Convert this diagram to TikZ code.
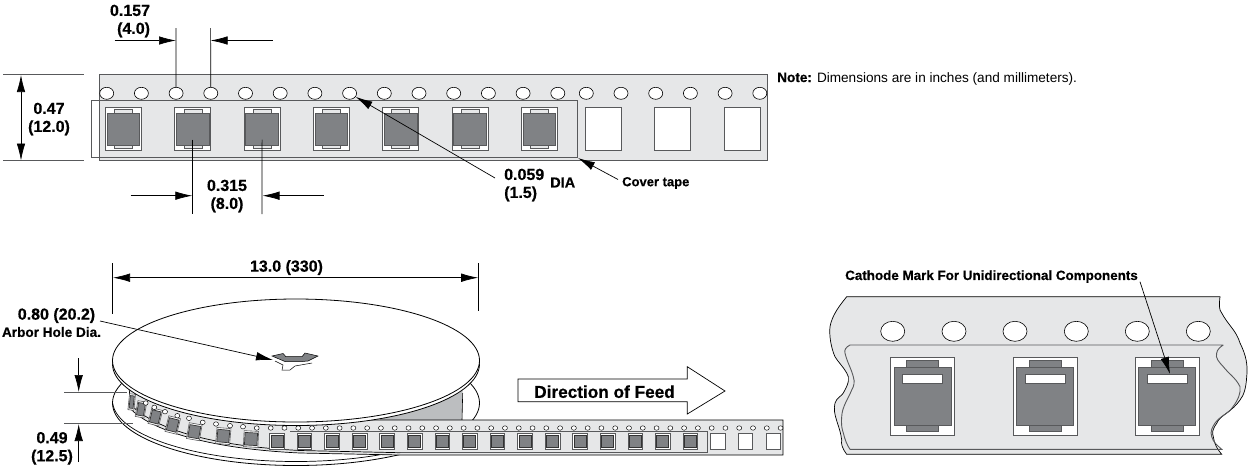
\documentclass[tikz,border=0pt]{standalone}
\usepackage{fontspec}
\setmainfont[BoldFeatures={FakeBold=0.5}]{Liberation Sans}
\usetikzlibrary{arrows.meta, shapes.geometric}
\definecolor{tapegray}{HTML}{E6E7E8}
\definecolor{chipgray}{HTML}{808285}
\definecolor{edgegray}{HTML}{58595B}
\definecolor{shadegray}{HTML}{BCBEC0}
\tikzset{
  dimline/.style={draw=black, line width=0.7pt},
  dimarrow/.style={dimline, -{Latex[length=17pt,width=8.5pt]}},
  dimboth/.style={dimline, {Latex[length=17pt,width=8.5pt]}-{Latex[length=17pt,width=8.5pt]}},
  bigtext/.style={inner sep=0pt, font=\bfseries\fontsize{16}{18}\selectfont},
  smalltext/.style={inner sep=0pt, font=\bfseries\fontsize{13}{15}\selectfont},
  tapeline/.style={draw=edgegray, line width=0.9pt},
  hole/.style={ellipse, draw=black, fill=white, line width=0.6pt, inner sep=0pt, minimum width=14pt, minimum height=12pt},
  tinyhole/.style={hole, line width=0.45pt, minimum width=5pt, minimum height=4.5pt},
  widehole/.style={hole, minimum width=24pt, minimum height=20pt},
  pocket/.style={rectangle, draw=edgegray, fill=white, line width=0.9pt, inner sep=0pt, minimum width=36pt, minimum height=42.5pt},
  chip/.style={rectangle, draw=edgegray, fill=chipgray, line width=0.8pt, inner sep=0pt, minimum width=32.5pt, minimum height=32pt},
  chiptab/.style={rectangle, draw=edgegray, fill=tapegray, line width=0.6pt, inner sep=0pt, minimum width=18pt, minimum height=3.8pt},
  tinypocket/.style={rectangle, draw=edgegray, fill=white, line width=0.6pt, inner sep=0pt, minimum height=16pt},
  tinychip/.style={rectangle, draw=black!80, fill=chipgray, line width=0.7pt, inner sep=0pt, minimum height=12.5pt},
  bigpocket/.style={rectangle, draw=edgegray, fill=white, line width=0.9pt, inner sep=0pt, minimum width=64pt, minimum height=78pt},
  bigchip/.style={rectangle, draw=edgegray, fill=chipgray, line width=0.9pt, inner sep=0pt, minimum width=57.3pt, minimum height=57.7pt},
  bigtab/.style={rectangle, draw=edgegray, fill=chipgray, line width=0.7pt, inner sep=0pt, minimum width=32pt, minimum height=6.6pt},
  cathodemark/.style={rectangle, draw=edgegray, fill=white, line width=0.8pt, inner sep=0pt, minimum width=40pt, minimum height=8.6pt}
}
\begin{document}
\begin{tikzpicture}[x=1pt,y=-1pt]
    \useasboundingbox (0,0) rectangle (1249,467);

    \filldraw[tapeline, fill=tapegray] (99,74) rectangle (767.5,160);
    \draw[tapeline] (91,100.7) rectangle (577.3,157.5);
    \foreach \k in {0,...,13}
        \node[hole] (hole\k) at (106.7+34.7*\k,93.3) {};
    \foreach \k in {0,...,5}
        \node[hole] (spare\k) at (586.3+34.7*\k,93.3) {};
    \foreach \k in {0,...,6} {
        \node[pocket] (pocket\k) at (123.5+69.3*\k,128.7) {};
        \node[chiptab] (tabup\k) at (123.5+69.3*\k,111) {};
        \node[chiptab] (tabdown\k) at (123.5+69.3*\k,146.7) {};
        \node[chip] (chip\k) at (123.5+69.3*\k,129) {};
    }
    \foreach \x [count=\k] in {603.5,672.8,742.5}
        \node[pocket] (empty\k) at (\x,128.7) {};

    \coordinate (pitchLeftTop) at (176,28);
    \coordinate (pitchRightTop) at (210.6,28);
    \coordinate (pitchLeftFar) at (114.5,40.5);
    \coordinate (pitchRightFar) at (272.5,40.5);
    \coordinate (pitchLeftIn) at (176,40.5);
    \coordinate (pitchRightIn) at (210.6,40.5);
    \draw[dimline] (pitchLeftTop) -- (hole2);
    \draw[dimline] (pitchRightTop) -- (hole3);
    \draw[dimarrow] (pitchLeftFar) -- (pitchLeftIn);
    \draw[dimarrow] (pitchRightFar) -- (pitchRightIn);
    \node[bigtext, align=right] (pitchText) at (130,21) {0.157\\(4.0)};

    \coordinate (widthTopA) at (3,74.7);
    \coordinate (widthTopB) at (84,74.7);
    \coordinate (widthBotA) at (3,160.7);
    \coordinate (widthBotB) at (84,160.7);
    \coordinate (widthArrowA) at (21,75);
    \coordinate (widthArrowB) at (21,160.5);
    \draw[dimline, draw=edgegray] (widthTopA) -- (widthTopB);
    \draw[dimline, draw=edgegray] (widthBotA) -- (widthBotB);
    \draw[dimboth] (widthArrowA) -- (widthArrowB);
    \node[bigtext, align=center] (widthText) at (49,119) {0.47\\(12.0)};

    \coordinate (spaceLeftEnd) at (192.8,214);
    \coordinate (spaceRightEnd) at (262,214);
    \coordinate (spaceLeftFar) at (130.5,195.7);
    \coordinate (spaceRightFar) at (323.5,195.7);
    \coordinate (spaceLeftIn) at (192.3,195.7);
    \coordinate (spaceRightIn) at (262.5,195.7);
    \draw[dimline] (chip1.center) ++(0,10.5) -- (spaceLeftEnd);
    \draw[dimline] (chip2.center) ++(0,10.5) -- (spaceRightEnd);
    \draw[dimarrow] (spaceLeftFar) -- (spaceLeftIn);
    \draw[dimarrow] (spaceRightFar) -- (spaceRightIn);
    \node[bigtext, align=center] (spaceText) at (227,196) {0.315\\(8.0)};

    \coordinate (diaStart) at (495,178);
    \coordinate (coverStart) at (618,179.5);
    \coordinate (coverTip) at (578,158);
    \draw[dimarrow] (diaStart) -- (hole7);
    \draw[dimarrow] (coverStart) -- (coverTip);
    \node[bigtext, align=left, anchor=west] (diaText) at (504,185) {0.059\\(1.5)};
    \node[smalltext, font=\bfseries\fontsize{14.5}{16}\selectfont, anchor=west] (diaWord) at (550,182.5) {DIA};
    \node[smalltext, anchor=west] (coverText) at (622,183) {Cover tape};
    \node[inner sep=0pt, anchor=west, font=\fontsize{13.6}{15}\selectfont] (noteText) at (777,78.5) {\textbf{Note:} Dimensions are in inches (and millimeters).};

    \draw[line width=0.8pt, fill=white] (296,403) ellipse [x radius=183.5, y radius=62.5];
    \begin{scope}
        \clip (100,403) rectangle (420,467);
        \draw[line width=0.7pt] (296,400.5) ellipse [x radius=183.5, y radius=61];
    \end{scope}

    \fill[shadegray] (380,400) -- (462.7,390) -- (462,421) -- (380,421) -- cycle;
    \draw[line width=0.6pt] (462.7,393) -- (462,420);

    \filldraw[draw=black, line width=0.7pt, fill=tapegray] (129,385) -- (129.5,393) -- (131.7,410)
        .. controls (148,426) and (195,448) .. (300,453) -- (400,455) -- (783,455)
        -- (783,420) -- (300,420) -- cycle;
    \draw[tapeline] (290,431.7) -- (707.3,431.7) -- (707.3,452.7) -- (400,452.7);
    \draw[draw=black, line width=0.7pt] (400,452.7) -- (300,450.5)
        .. controls (195,445) and (150,424) .. (131,405);

    \foreach \x/\y/\r/\w [count=\k] in {131.7/402/-6/6, 141/409.3/-10/9, 155.3/416.9/-14/11,
        172.7/425/-14/12, 194.3/431.7/-10/13, 223.3/436/-5/14, 251/439/-3/14.5} {
        \node[tinypocket, rotate=\r, minimum width=\w pt] (bendPocket\k) at (\x,\y) {};
        \node[tinychip, rotate=\r, minimum width=\w pt-2pt] (bendChip\k) at (\x,\y) {};
    }
    \foreach \k in {-5,...,10} {
        \node[tinypocket, minimum width=14.7pt] (flatPocket\k) at (414.7+27.57*\k,441.5) {};
        \node[tinychip, minimum width=12pt] (flatChip\k) at (414.7+27.57*\k,441.5) {};
    }
    \foreach \x [count=\k] in {717.7,745.3,773.3}
        \node[tinypocket, minimum width=14.7pt] (flatEmpty\k) at (\x,441.5) {};

    \foreach \x/\y [count=\k] in {145.7/403, 154.3/407.3, 165/411.7, 177.3/415.7, 189/418.3,
        202.7/422.3, 216/424, 230/425.7, 243/426.7, 256.7/428}
        \node[tinyhole] (bendHole\k) at (\x,\y) {};
    \foreach \k in {0,...,37}
        \node[tinyhole] (flatHole\k) at (270.7+13.78*\k,428) {};

    \draw[line width=0.8pt, fill=white] (296,364) ellipse [x radius=183.5, y radius=61.5];
    \draw[line width=0.8pt, fill=white] (296,360.5) ellipse [x radius=183.5, y radius=61.5];

    \filldraw[draw=black, fill=chipgray, line width=0.5pt] (272,356) -- (283,353.5) -- (286,356.7)
        -- (302,356.7) -- (305,353) -- (318,356) -- (308,361) -- (302,361.5) -- (285,361.5) -- cycle;
    \draw[line width=0.5pt] (275,361) -- (283,365) -- (282,370) -- (290,370) -- (295,366) -- (312,363);

    \coordinate (reelLeftTop) at (112.5,263);
    \coordinate (reelLeftEnd) at (112.5,314);
    \coordinate (reelRightTop) at (478.7,263);
    \coordinate (reelRightEnd) at (478.7,311);
    \coordinate (reelArrowA) at (113,277.7);
    \coordinate (reelArrowB) at (478.2,277.7);
    \draw[dimline] (reelLeftTop) -- (reelLeftEnd);
    \draw[dimline] (reelRightTop) -- (reelRightEnd);
    \draw[dimboth] (reelArrowA) -- (reelArrowB);
    \node[bigtext] (reelText) at (286.5,267.5) {13.0 (330)};

    \coordinate (arborStart) at (100,321);
    \coordinate (arborTip) at (273,360);
    \draw[dimarrow] (arborStart) -- (arborTip);
    \node[bigtext] (arborText) at (56.5,315.5) {0.80 (20.2)};
    \node[smalltext, font=\bfseries\fontsize{13.6}{15}\selectfont] (arborWord) at (51.5,332) {Arbor Hole Dia.};

    \coordinate (thickTopA) at (64,392.3);
    \coordinate (thickTopB) at (126.7,392.3);
    \coordinate (thickBotA) at (64,423.7);
    \coordinate (thickBotB) at (133,423.7);
    \coordinate (thickDownA) at (78.7,358);
    \coordinate (thickDownB) at (78.7,392);
    \coordinate (thickUpA) at (78.7,462);
    \coordinate (thickUpB) at (78.7,424);
    \draw[dimline, draw=edgegray] (thickTopA) -- (thickTopB);
    \draw[dimline, draw=edgegray] (thickBotA) -- (thickBotB);
    \draw[dimarrow] (thickDownA) -- (thickDownB);
    \draw[dimarrow] (thickUpA) -- (thickUpB);
    \node[bigtext, align=center] (thickText) at (52,448.3) {0.49\\(12.5)};

    \filldraw[draw=black, fill=white, line width=0.7pt] (518,379) -- (687.3,379) -- (687.3,366.7)
        -- (725,391) -- (687.3,414) -- (687.3,401.7) -- (518,401.7) -- cycle;
    \node[inner sep=0pt, font=\bfseries\fontsize{17.2}{19}\selectfont] (feedText) at (604.5,391.7) {Direction of Feed};

    \filldraw[draw=black, line width=0.7pt, fill=tapegray] (846.7,296.7) -- (1220,296.7)
        .. controls (1219,305) and (1219,310) .. (1221.7,313)
        .. controls (1228,325) and (1236,330) .. (1240,343)
        .. controls (1246,355) and (1248,365) .. (1246.7,376.7)
        .. controls (1246,388) and (1244,395) .. (1240,400)
        .. controls (1232,412) and (1220,415) .. (1216.7,423.3)
        .. controls (1212,430) and (1212,433) .. (1213.3,436.7)
        .. controls (1214,444) and (1218,450) .. (1221.7,454.3)
        -- (846.7,454.3)
        .. controls (842,448) and (841,444) .. (841.7,440)
        .. controls (840,425) and (832,415) .. (835,403)
        .. controls (837,397) and (842,396) .. (843.3,393)
        .. controls (849,383) and (850,378) .. (846.7,373)
        .. controls (842,365) and (838,362) .. (835,356.7)
        .. controls (831,348) and (829,335) .. (830,326.7)
        .. controls (832,315) and (840,305) .. (846.7,296.7) -- cycle;
    \draw[tapeline] (1223.3,345) -- (850,345)
        .. controls (846,347) and (844,350) .. (845,353)
        .. controls (847,362) and (851,368) .. (853.3,376.7)
        .. controls (855,382) and (854,386) .. (851.7,390)
        .. controls (848,399) and (842,407) .. (841.7,416.7)
        .. controls (841,425) and (842,429) .. (843.3,433)
        .. controls (845,440) and (847,445) .. (850,449.3)
        -- (1221.7,449.3)
        .. controls (1218,446) and (1213,442) .. (1211.7,436.7)
        .. controls (1210,431) and (1212,428) .. (1215,423)
        .. controls (1221,415) and (1230,413) .. (1233,406.7)
        .. controls (1238,400) and (1241,393) .. (1240,386.7)
        .. controls (1236,378) and (1228,373) .. (1223.3,366.7)
        .. controls (1219,362) and (1215,358) .. (1216.7,353)
        .. controls (1217,350) and (1220,347) .. (1223.3,345);

    \foreach \x [count=\k] in {892.7,954,1015,1076.3,1137.3,1198.3}
        \node[widehole] (wideHole\k) at (\x,331.3) {};
    \foreach \x [count=\k] in {922.7,1045,1167.2} {
        \node[bigpocket] (bigPocket\k) at (\x,396.3) {};
        \node[bigtab] (bigTabUp\k) at (\x,364) {};
        \node[bigtab] (bigTabDown\k) at (\x,428.4) {};
        \node[bigchip] (bigChip\k) at (\x,396.2) {};
        \node[cathodemark] (mark\k) at (\x,379) {};
    }
    \coordinate (cathodeStart) at (1140,281.7);
    \coordinate (cathodeTip) at (1170,374);
    \draw[dimarrow] (cathodeStart) -- (cathodeTip);
    \node[smalltext, font=\bfseries\fontsize{13.4}{15}\selectfont, anchor=west] (cathodeText) at (845,276.5) {Cathode Mark For Unidirectional Components};
\end{tikzpicture}
\end{document}
